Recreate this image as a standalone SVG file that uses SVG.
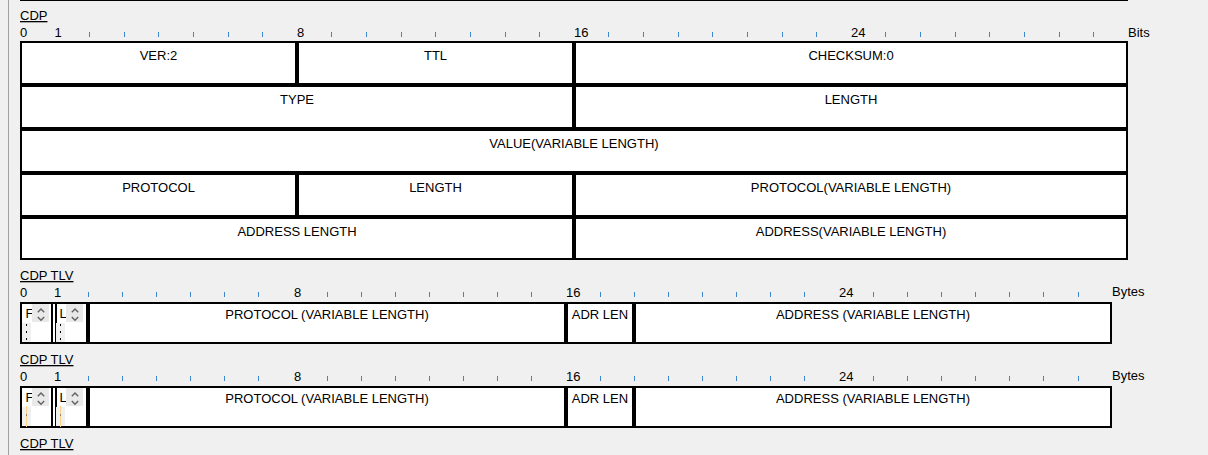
<svg xmlns="http://www.w3.org/2000/svg" width="1208" height="455" viewBox="0 0 1208 455">
<style>
text{font-family:"Liberation Sans",Arial,sans-serif;font-size:13px;fill:#000}
.c{text-anchor:middle}
.u{text-decoration:underline}
.cell{fill:#fff;stroke:#000;stroke-width:2}
.tk{stroke:#3d86cc;stroke-width:1}
.chev{fill:none;stroke:#626262;stroke-width:1.4}
.spin{fill:#e9e9e9}
.strip{fill:#f0f0f0}
</style>
<defs>
<g id="spinner">
<rect class="spin" x="32" y="304" width="17" height="18"/>
<path class="chev" d="M37.8,312.3 L41,309 L44.2,312.3"/>
<path class="chev" d="M37.8,317 L41,320.3 L44.2,317"/>
<rect class="strip" x="22" y="323" width="9" height="19"/>
</g>
<g id="dots"><line x1="26.5" y1="324" x2="26.5" y2="341" stroke="#000" stroke-width="1" stroke-dasharray="2,5"/></g>
<g id="caret"><line x1="26.5" y1="322" x2="26.5" y2="343" stroke="#fcd58a" stroke-width="1"/><rect x="26" y="330.5" width="1" height="1" fill="#333"/></g>
</defs>
<rect width="1208" height="455" fill="#f0f0f0"/>
<line x1="8.5" y1="0" x2="8.5" y2="455" stroke="#a0a0a0" stroke-width="1"/>
<line x1="20" y1="0.5" x2="1128" y2="0.5" stroke="#000" stroke-width="1"/>

<g id="cdp-header">
<text class="u" x="20" y="20">CDP</text>
<text x="20" y="37">0</text><text x="54.6" y="37">1</text><text x="297" y="37">8</text><text x="574" y="37">16</text><text x="851" y="37">24</text>
<text x="1128" y="37">Bits</text>
<path class="tk" d="M89.5,32v5M124.5,32v5M158.5,32v5M193.5,32v5M228.5,32v5M262.5,32v5M331.5,32v5M366.5,32v5M401.5,32v5M435.5,32v5M470.5,32v5M505.5,32v5M539.5,32v5M608.5,32v5M643.5,32v5M678.5,32v5M712.5,32v5M747.5,32v5M782.5,32v5M816.5,32v5M885.5,32v5M920.5,32v5M955.5,32v5M989.5,32v5M1024.5,32v5M1059.5,32v5M1093.5,32v5"/>
</g>

<g id="cdp-row1">
<g id="ver"><rect class="cell" x="21" y="42" width="275" height="42"/><text class="c" x="158.5" y="60">VER:2</text></g>
<g id="ttl"><rect class="cell" x="298" y="42" width="275" height="42"/><text class="c" x="435.5" y="60">TTL</text></g>
<g id="checksum"><rect class="cell" x="575" y="42" width="552" height="42"/><text class="c" x="851" y="60">CHECKSUM:0</text></g>
</g>
<g id="cdp-row2">
<g id="type"><rect class="cell" x="21" y="86" width="552" height="42"/><text class="c" x="297" y="104">TYPE</text></g>
<g id="length1"><rect class="cell" x="575" y="86" width="552" height="42"/><text class="c" x="851" y="104">LENGTH</text></g>
</g>
<g id="cdp-row3">
<g id="value"><rect class="cell" x="21" y="130" width="1106" height="42"/><text class="c" x="574" y="148">VALUE(VARIABLE LENGTH)</text></g>
</g>
<g id="cdp-row4">
<g id="protocol"><rect class="cell" x="21" y="174" width="275" height="42"/><text class="c" x="158.5" y="192">PROTOCOL</text></g>
<g id="length2"><rect class="cell" x="298" y="174" width="275" height="42"/><text class="c" x="435.5" y="192">LENGTH</text></g>
<g id="protocol-var"><rect class="cell" x="575" y="174" width="552" height="42"/><text class="c" x="851" y="192">PROTOCOL(VARIABLE LENGTH)</text></g>
</g>
<g id="cdp-row5">
<g id="address-length"><rect class="cell" x="21" y="218" width="552" height="41"/><text class="c" x="297" y="236">ADDRESS LENGTH</text></g>
<g id="address-var"><rect class="cell" x="575" y="218" width="552" height="41"/><text class="c" x="851" y="236">ADDRESS(VARIABLE LENGTH)</text></g>
</g>

<g id="tlv1">
<text class="u" x="20" y="280">CDP TLV</text>
<text x="20" y="297">0</text><text x="54.1" y="297">1</text><text x="294" y="297">8</text><text x="566" y="297">16</text><text x="839" y="297">24</text>
<text x="1112" y="296">Bytes</text>
<path class="tk" d="M88.5,292v5M122.5,292v5M156.5,292v5M190.5,292v5M224.5,292v5M258.5,292v5M327.5,292v5M361.5,292v5M395.5,292v5M429.5,292v5M463.5,292v5M497.5,292v5M531.5,292v5M600.5,292v5M634.5,292v5M668.5,292v5M702.5,292v5M736.5,292v5M770.5,292v5M804.5,292v5M873.5,292v5M907.5,292v5M941.5,292v5M975.5,292v5M1009.5,292v5M1043.5,292v5M1078.5,292v5"/>
<rect class="cell" x="21" y="303" width="1090" height="40"/>
<g id="tlv1-f"><rect class="cell" x="21" y="303" width="31" height="40"/><text x="25.5" y="318">F</text><use href="#spinner"/><use href="#dots"/></g>
<g id="tlv1-l"><rect class="cell" x="56" y="303" width="31" height="40"/><g transform="translate(34,0)"><text x="25.5" y="318">L</text><use href="#spinner"/><use href="#dots"/></g></g>
<g id="tlv1-protocol"><rect class="cell" x="89" y="303" width="476" height="40"/><text class="c" x="327" y="319">PROTOCOL (VARIABLE LENGTH)</text></g>
<g id="tlv1-adrlen"><rect class="cell" x="567" y="303" width="66" height="40"/><text class="c" x="600" y="319">ADR LEN</text></g>
<g id="tlv1-address"><rect class="cell" x="635" y="303" width="476" height="40"/><text class="c" x="873" y="319">ADDRESS (VARIABLE LENGTH)</text></g>
</g>

<g id="tlv2" transform="translate(0,84)">
<text class="u" x="20" y="280">CDP TLV</text>
<text x="20" y="297">0</text><text x="54.1" y="297">1</text><text x="294" y="297">8</text><text x="566" y="297">16</text><text x="839" y="297">24</text>
<text x="1112" y="296">Bytes</text>
<path class="tk" d="M88.5,292v5M122.5,292v5M156.5,292v5M190.5,292v5M224.5,292v5M258.5,292v5M327.5,292v5M361.5,292v5M395.5,292v5M429.5,292v5M463.5,292v5M497.5,292v5M531.5,292v5M600.5,292v5M634.5,292v5M668.5,292v5M702.5,292v5M736.5,292v5M770.5,292v5M804.5,292v5M873.5,292v5M907.5,292v5M941.5,292v5M975.5,292v5M1009.5,292v5M1043.5,292v5M1078.5,292v5"/>
<rect class="cell" x="21" y="303" width="1090" height="40"/>
<g id="tlv2-f"><rect class="cell" x="21" y="303" width="31" height="40"/><text x="25.5" y="318">F</text><use href="#spinner"/><use href="#caret"/></g>
<g id="tlv2-l"><rect class="cell" x="56" y="303" width="31" height="40"/><g transform="translate(34,0)"><text x="25.5" y="318">L</text><use href="#spinner"/><use href="#caret"/></g></g>
<g id="tlv2-protocol"><rect class="cell" x="89" y="303" width="476" height="40"/><text class="c" x="327" y="319">PROTOCOL (VARIABLE LENGTH)</text></g>
<g id="tlv2-adrlen"><rect class="cell" x="567" y="303" width="66" height="40"/><text class="c" x="600" y="319">ADR LEN</text></g>
<g id="tlv2-address"><rect class="cell" x="635" y="303" width="476" height="40"/><text class="c" x="873" y="319">ADDRESS (VARIABLE LENGTH)</text></g>
</g>

<g id="tlv3">
<text class="u" x="20" y="448">CDP TLV</text>
</g>
<g id="connectors"/>
</svg>
